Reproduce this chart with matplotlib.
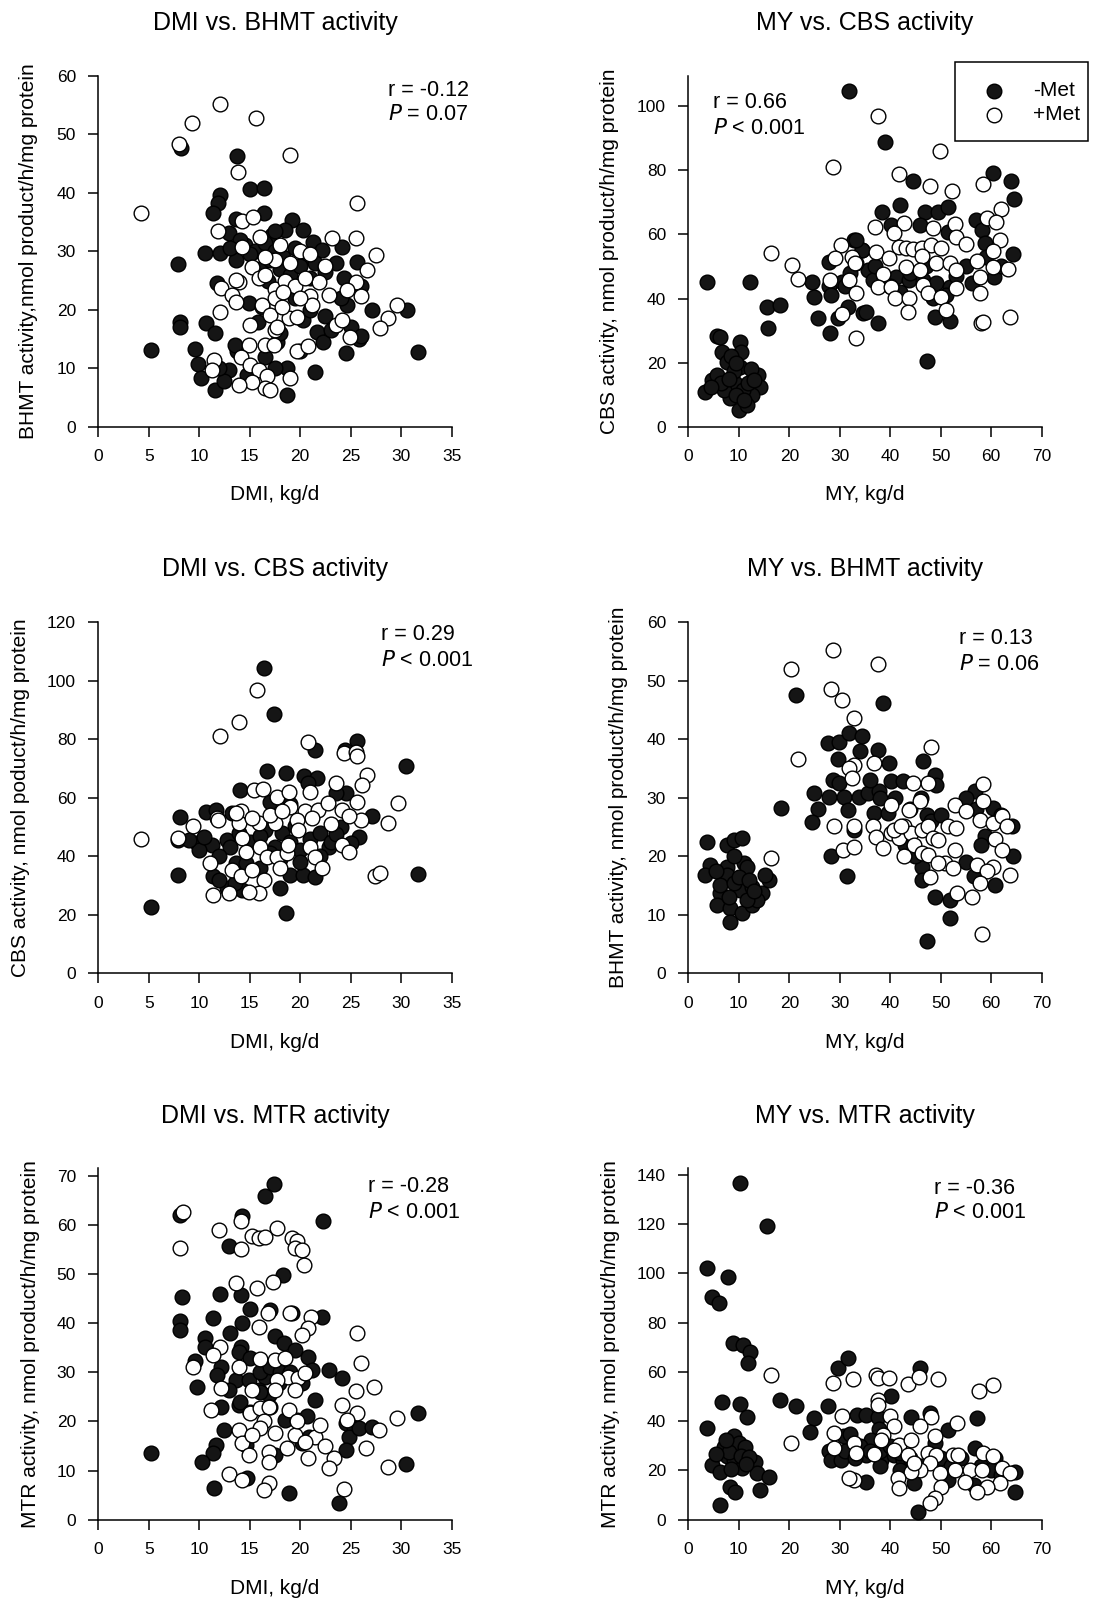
import numpy as np
import matplotlib
matplotlib.use("Agg")
import matplotlib.pyplot as plt
from matplotlib.patches import Rectangle
from matplotlib.lines import Line2D

plt.rcParams['font.family'] = ['Liberation Sans', 'DejaVu Sans']

# ---------------- data (x, y) ----------------
# Panel 1: DMI vs BHMT
dmi_bhmt_neg = [(8.2,47.6),(13.7,46.2),(15.0,40.6),(16.4,40.9),(12.1,39.6),(11.9,38.2),(11.4,36.5),(16.4,36.6),
    (13.6,35.6),(12.9,33.2),(17.2,32.8),(10.6,29.7),(12.1,29.8),(13.6,28.5),(7.9,27.8),(11.8,24.6),(14.9,21.1),
    (8.1,18.0),(8.1,17.1),(10.7,17.8),(5.2,13.2),(9.6,13.3),(11.6,16.0),(13.7,12.9),(9.9,10.8),(10.2,8.3),
    (11.6,6.3),(12.9,9.7),(12.4,7.9),(14.7,8.9),(19.2,35.4),(18.5,33.6),(20.3,33.6),(21.3,31.6),(22.2,30.2),
    (24.1,30.8),(25.6,28.2),(24.3,25.4),(24.6,20.8),(27.1,20.0),(30.6,20.0),(21.7,16.3),(22.3,14.6),(25.8,15.1),
    (24.5,12.6),(31.7,12.8),(21.5,9.4),(18.7,10.0),(18.7,5.5),(20.3,18.3),(17.7,14.6),
    (14.5,31.0),(15.5,30.0),(16.5,31.5),(17.5,30.0),(18.3,29.0),(19.5,30.5),(20.5,29.0),(21.5,28.0),(16.0,27.0),
    (17.0,28.5),(18.0,27.0),(19.0,26.0),(20.0,27.5),(21.0,25.5),(22.5,26.5),(23.5,28.0),(15.0,29.5),(14.0,32.0),
    (17.5,33.5),(13.0,30.5),(16.8,25.0),(19.5,22.0),(21.0,20.0),(22.5,19.0),(23.0,16.5),(25.0,17.0),(26.0,15.5),
    (16.5,12.0),(17.5,10.0),(15.8,18.0),(16.2,20.5),(18.0,16.0),(20.0,13.0),(24.0,22.0),(26.0,24.0),(13.5,14.0),(12.0,10.0)]
dmi_bhmt_pos = [(12.1,55.1),(9.3,51.9),(15.6,52.7),(8.0,48.3),(13.8,43.5),(4.2,36.6),(14.2,35.1),(15.3,35.8),
    (11.9,33.4),(16.0,32.5),(14.2,30.8),(15.2,27.4),(15.9,25.4),(13.9,24.8),(13.6,25.1),(12.2,23.8),(13.2,22.5),
    (12.1,19.7),(13.6,21.3),(16.2,20.8),(17.0,19.1),(15.0,17.4),(16.5,14.0),(14.9,14.0),(14.1,12.0),(15.0,10.6),
    (15.9,9.7),(16.7,8.7),(16.5,6.6),(15.2,7.7),(13.9,7.2),(11.5,11.4),(11.3,9.7),(17.5,28.5),(17.5,23.5),
    (17.5,22.0),(17.5,16.5),(19.0,46.5),(25.6,38.3),(25.5,32.2),(23.1,32.3),(27.5,29.4),(26.6,26.9),(25.5,24.8),
    (24.6,23.4),(26.0,22.3),(22.8,22.5),(21.9,24.8),(22.5,27.5),(21.0,22.4),(21.2,20.8),(29.6,20.8),(28.7,18.6),
    (27.9,16.9),(23.5,17.4),(24.1,18.3),(24.9,15.3),(19.7,12.9),(20.8,13.8),(19.0,8.3),(18.9,18.6),(19.7,18.8),
    (18.2,20.5),(17.7,17.1),(17.4,14.0),(17.0,6.3),(18.5,25.0),(19.5,24.0),(20.5,25.5),(19.0,28.0),(20.0,30.0),
    (18.0,31.0),(21.0,29.5),(16.5,26.0),(18.3,23.0),(20.0,22.0),(16.5,29.0)]

# Panel 2: MY vs CBS
my_cbs_neg = [(31.9,104.5),(3.7,45.0),(12.2,45.3),(15.6,37.5),(18.1,38.0),(15.7,30.9),
    (5.7,28.3),(6.3,28.0),(10.3,26.6),(6.7,23.5),(10.4,23.5),(7.6,20.3),(10.3,18.8),(13.9,16.2),(14.3,12.6),
    (12.6,10.0),(3.3,11.0),(4.7,14.6),(9.3,13.6),(8.3,8.9),(10.0,5.3),(11.6,6.9),(5.7,16.2),(7.0,11.5),(9.0,17.5),
    (10.8,11.5),(6.4,13.6),(11.8,13.6),(8.5,22.0),(9.5,20.0),(8.0,15.0),(12.5,18.0),(4.5,12.5),(9.5,10.0),(11.0,8.5),
    (13.0,14.5),(32.9,58.3),(34.4,55.0),(27.9,51.5),(24.6,45.3),(24.9,40.6),(27.8,44.0),(28.2,41.1),(25.7,33.9),
    (28.1,29.2),(29.6,33.9),(31.6,37.5),(34.7,35.4),(39.0,88.9),(44.6,76.6),(60.4,79.0),(63.9,76.6),(64.5,71.1),
    (42.0,69.2),(38.4,66.8),(46.8,67.1),(49.5,66.9),(51.5,68.6),(45.8,62.9),(51.5,60.8),(40.2,62.9),(57.0,64.5),
    (58.1,61.4),(58.8,57.4),(64.4,53.8),(60.6,46.8),(56.1,44.8),(34.5,55.1),(35.5,48.9),(36.5,45.8),(38.8,46.8),
    (41.2,46.8),(43.8,45.8),(46.5,45.8),(49.1,44.8),(51.8,43.7),(51.1,41.1),(48.5,40.1),(35.2,35.9),(37.5,32.3),
    (48.8,34.4),(51.8,33.1),(47.2,20.7),(33.2,58.3),(33.2,51.0),(30.5,45.0),(32.0,48.0),(37.0,50.0),(40.0,44.0),
    (44.0,48.0),(53.0,47.0),(55.0,50.0),(59.0,53.0),(62.0,50.0),(47.0,50.0),(42.0,42.0),(31.0,44.0)]
my_cbs_pos = [(28.7,81.1),(16.3,54.1),(20.5,50.5),(21.8,46.0),(30.2,56.7),(29.0,52.6),(32.5,52.9),(33.0,51.2),
    (28.1,45.8),(31.8,45.8),(33.2,41.7),(30.4,35.2),(33.2,27.6),(37.5,96.7),(49.8,86.0),(41.8,78.8),(47.9,75.2),
    (52.3,73.6),(58.4,75.7),(61.9,67.8),(36.9,62.4),(42.8,63.6),(40.8,60.3),(48.5,62.1),(52.8,63.1),(53.1,59.3),
    (59.1,65.0),(61.0,63.9),(61.8,58.3),(41.8,56.2),(43.2,55.7),(44.5,55.3),(46.2,55.7),(48.1,56.7),(50.1,55.7),
    (55.1,57.0),(37.2,54.6),(39.8,52.6),(46.2,53.1),(49.1,51.0),(51.8,51.0),(53.1,48.9),(57.1,51.8),(60.4,54.8),
    (60.4,49.9),(63.4,49.1),(57.8,46.8),(57.8,41.8),(43.2,49.9),(45.8,48.9),(38.5,47.6),(37.5,43.5),(40.2,43.7),
    (41.0,40.1),(43.8,40.1),(46.5,44.2),(47.5,41.7),(50.1,40.6),(53.1,43.4),(43.5,35.9),(51.0,36.4),(58.0,32.3),
    (58.4,32.8),(63.7,34.4)]

# Panel 3: DMI vs CBS
dmi_cbs_neg = [(16.4,104.4),(17.4,88.6),(21.5,76.4),(25.6,79.3),(24.4,76.2),(30.5,70.9),(16.7,69.0),(18.6,68.4),
    (20.4,67.3),(21.7,66.7),(14.0,62.5),(8.1,53.4),(10.7,55.0),(11.7,55.9),(7.9,45.6),(9.8,44.5),(11.3,43.9),
    (12.7,45.6),(13.9,47.9),(7.9,33.6),(5.2,22.8),(18.6,20.7),(18.0,29.1),(11.4,33.1),(12.7,29.1),(14.2,28.5),
    (19.0,33.6),(20.3,33.6),(21.5,32.9),(27.1,53.6),(25.8,46.7),(24.5,61.6),(22.8,43.3),(16.5,49.0),(18.2,47.9),
    (19.5,50.2),(17.5,43.3),(13.2,54.8),(13.6,37.6),(14.6,37.6),(20.8,65.0),(23.5,61.6),(31.7,34.0),
    (15.0,45.0),(16.0,47.0),(17.0,41.0),(19.0,45.0),(20.0,42.0),(21.0,46.0),(22.0,48.0),(23.0,45.0),(24.0,50.0),
    (18.0,39.0),(20.0,38.0),(22.0,40.0),(16.0,36.0),(13.0,43.0),(12.0,40.0),(10.0,42.0),(23.5,47.5),(25.0,44.5),
    (19.0,58.0),(17.0,58.5),(12.0,32.0),(13.5,31.0),(9.0,45.5),(10.5,46.5)]
dmi_cbs_pos = [(15.7,96.7),(12.1,81.0),(13.9,85.8),(20.8,78.9),(24.3,75.3),(25.5,75.8),(25.6,74.1),(26.6,67.9),
    (26.1,64.4),(23.5,65.0),(29.7,58.2),(28.7,51.5),(4.2,46.0),(9.4,50.4),(7.9,46.2),(11.8,53.0),(15.4,62.7),
    (16.3,63.0),(17.7,60.4),(18.9,61.8),(21.0,61.8),(19.0,56.8),(20.5,55.6),(21.8,55.9),(22.7,58.2),(24.1,55.9),
    (25.6,58.7),(26.0,52.5),(24.8,53.6),(23.0,51.1),(21.2,53.0),(19.7,52.5),(19.8,49.0),(17.5,51.3),(15.9,51.5),
    (14.1,55.6),(13.9,51.5),(15.2,53.0),(17.0,54.2),(18.2,55.6),(14.2,46.2),(14.6,41.6),(16.0,43.3),(16.7,39.9),
    (17.7,39.9),(18.7,41.1),(18.8,43.9),(21.0,43.3),(21.5,39.9),(22.2,35.9),(24.1,43.9),(24.8,41.6),(11.1,37.6),
    (13.2,35.4),(14.1,33.1),(15.2,35.4),(16.4,31.9),(15.9,27.4),(14.9,27.9),(12.9,27.4),(11.4,26.8),(18.0,35.9),
    (27.4,33.1),(27.9,34.2),(11.9,52.5),(13.6,54.8)]

# Panel 4: MY vs BHMT
my_bhmt_neg = [(21.3,47.6),(38.5,46.2),(27.6,39.4),(29.9,39.6),(31.9,41.1),(34.5,40.6),(29.6,36.6),(37.5,38.2),
    (39.8,35.9),(28.6,33.1),(29.9,32.5),(24.9,30.8),(27.9,30.2),(30.9,30.2),(33.9,30.2),(35.5,30.8),(18.3,28.2),
    (25.6,28.1),(24.6,25.8),(31.6,27.9),(32.9,24.5),(37.8,31.1),(40.2,32.8),(42.5,32.8),(36.8,27.4),(39.5,27.4),
    (46.5,36.2),(48.8,33.9),(49.1,32.2),(47.2,27.1),(28.2,20.0),(31.4,16.7),(44.8,21.4),(46.2,18.2),(46.2,16.0),
    (48.8,13.1),(51.8,12.5),(51.8,9.4),(47.2,5.6),(56.8,31.1),(60.4,28.2),(64.1,25.1),(58.8,23.4),(64.4,20.1),
    (60.8,15.1),(56.5,16.7),(3.8,22.4),(7.6,22.0),(9.0,22.8),(10.6,23.1),(4.3,18.5),(3.3,16.8),(7.6,18.2),
    (11.0,18.8),(7.6,16.8),(6.3,13.7),(10.3,14.3),(12.6,14.8),(14.6,13.7),(15.9,16.0),(15.2,16.8),(5.7,11.7),
    (8.3,11.1),(10.6,10.3),(12.6,11.7),(8.2,8.8),(13.6,12.5),(11.6,12.5),(9.0,20.0),(11.6,18.2),(6.3,15.1),(9.0,15.4),
    (34.0,38.0),(36.0,33.0),(38.0,30.0),(41.0,30.0),(44.0,28.0),(46.0,30.0),(48.0,26.0),(50.0,27.0),(43.0,22.0),
    (45.0,20.0),(55.0,30.0),(57.0,28.0),(62.0,27.0),(58.0,22.0),(55.0,19.0),(8.0,13.0),(10.0,16.5),(12.0,16.0),
    (5.5,17.5),(13.0,14.0)]
my_bhmt_pos = [(28.7,55.3),(20.4,52.0),(37.5,52.8),(28.2,48.5),(30.4,46.7),(32.9,43.6),(21.8,36.7),(32.9,35.6),
    (31.9,35.1),(32.5,33.4),(36.7,35.9),(48.1,38.6),(47.5,32.5),(44.5,32.5),(45.8,29.4),(40.2,28.8),(43.8,27.9),
    (58.4,32.4),(58.4,29.5),(52.8,28.8),(55.1,27.7),(57.8,26.2),(60.4,25.7),(62.1,26.9),(63.1,25.2),(60.8,22.9),
    (62.1,21.0),(57.1,18.5),(60.4,18.2),(63.7,16.8),(59.1,17.4),(57.8,15.4),(56.1,13.0),(53.3,13.8),(58.2,6.7),
    (16.3,19.7),(28.9,25.1),(30.6,21.0),(32.9,21.6),(32.9,25.1),(36.5,25.1),(37.2,23.3),(38.5,21.4),(40.2,24.0),
    (41.8,23.1),(42.8,25.1),(44.2,24.0),(46.2,24.5),(47.5,25.1),(48.5,23.1),(44.8,22.0),(46.2,20.5),(47.5,20.2),
    (49.5,22.8),(51.5,25.1),(53.1,24.8),(52.8,21.1),(50.8,18.8),(49.5,18.8),(52.5,18.0),(47.8,16.5),(42.8,20.1),
    (40.8,24.5),(42.2,25.1)]

# Panel 5: DMI vs MTR
dmi_mtr_neg = [(17.4,68.3),(16.5,65.8),(22.3,60.7),(8.1,62.0),(14.2,61.7),(12.9,55.6),(18.3,49.8),(8.3,45.4),
    (12.1,45.9),(14.1,45.7),(15.0,42.8),(17.0,42.7),(8.1,40.5),(8.1,38.6),(11.4,41.0),(14.2,40.0),(19.2,42.0),
    (22.2,41.3),(10.6,36.9),(10.6,35.2),(14.1,35.2),(13.9,34.2),(17.5,37.3),(18.4,35.9),(9.6,32.2),(12.2,31.1),
    (11.8,29.5),(13.6,28.4),(14.9,28.4),(16.5,29.1),(17.9,27.8),(19.5,34.5),(20.8,33.2),(21.2,30.5),(22.8,30.5),
    (24.1,28.8),(9.8,27.0),(12.9,26.4),(15.9,26.4),(16.9,25.4),(20.2,27.8),(12.2,23.0),(13.9,23.4),(21.5,24.4),
    (12.4,18.3),(11.7,15.2),(11.4,13.5),(10.3,11.8),(18.5,20.3),(19.7,20.3),(20.7,21.0),(20.9,16.9),(20.2,15.6),
    (24.5,19.6),(25.3,18.6),(24.8,16.9),(25.8,18.6),(27.1,18.9),(24.5,14.2),(31.7,21.7),(30.5,11.3),(5.2,13.5),
    (14.7,8.4),(11.5,6.4),(18.9,5.4),(23.8,3.3),(17.5,13.2),(14.6,15.2),
    (13.0,38.0),(15.0,33.0),(16.0,30.0),(17.0,31.0),(18.0,30.0),(19.0,30.0),(16.0,26.0),(14.0,24.0),(15.0,22.0),(17.0,23.0)]
dmi_mtr_pos = [(8.4,62.7),(8.1,55.3),(12.0,59.0),(14.1,60.7),(15.2,57.8),(15.9,57.3),(16.5,57.6),(17.7,59.3),
    (19.2,57.3),(19.7,56.8),(19.5,55.3),(20.2,54.9),(20.4,51.9),(14.1,55.0),(13.6,48.1),(15.7,47.1),(17.3,48.3),
    (16.8,42.0),(15.9,39.3),(19.0,42.1),(21.1,41.3),(20.8,39.0),(20.2,37.6),(12.1,35.2),(11.4,33.5),(9.4,31.1),
    (25.6,37.9),(26.0,31.8),(27.3,27.0),(16.0,32.7),(17.5,32.5),(18.5,32.9),(18.8,29.1),(19.8,28.8),(20.5,29.8),
    (13.9,31.1),(12.2,26.8),(17.7,28.4),(15.2,26.4),(17.5,26.4),(19.5,26.4),(11.2,22.3),(15.0,21.7),(16.0,22.7),
    (16.9,23.0),(16.4,20.0),(16.0,18.6),(13.9,18.3),(14.2,15.6),(15.2,17.2),(17.5,17.6),(19.5,17.2),(18.9,22.3),
    (19.7,20.0),(21.5,16.9),(22.0,19.3),(20.5,15.9),(18.7,14.5),(16.9,13.8),(14.9,13.2),(16.9,11.8),(20.8,12.5),
    (22.5,14.9),(23.3,12.5),(22.8,10.5),(24.1,23.4),(25.5,26.1),(25.6,21.7),(24.6,20.3),(26.5,14.5),(27.8,18.3),
    (29.6,20.6),(28.7,10.8),(24.3,6.2),(12.9,9.4),(14.2,8.1),(16.9,7.5),(16.4,6.0)]

# Panel 6: MY vs MTR
my_mtr_neg = [(10.3,136.6),(15.5,119.3),(3.8,102.1),(7.8,98.5),(4.7,90.4),(6.0,87.8),(8.8,71.8),(10.8,71.1),
    (12.3,68.0),(11.8,63.7),(6.7,47.8),(10.3,47.0),(11.6,41.9),(3.7,37.2),(7.0,29.7),(9.0,33.8),(10.0,31.1),
    (11.3,29.7),(7.6,25.7),(9.0,24.3),(4.7,22.3),(6.3,19.5),(10.6,20.9),(13.3,23.6),(13.6,18.9),(15.9,17.5),
    (8.3,13.4),(9.3,11.4),(14.3,12.1),(6.2,6.0),(18.1,48.5),(21.3,46.0),(24.9,41.3),(24.2,35.8),(27.6,46.0),
    (29.6,61.6),(31.6,65.7),(27.9,27.7),(28.2,24.3),(30.2,24.3),(30.9,33.8),(33.5,42.6),(35.2,42.6),(37.5,41.9),
    (37.8,36.8),(36.2,32.4),(35.2,26.3),(38.2,24.3),(40.8,26.3),(42.5,24.3),(44.8,14.8),(35.2,15.5),(40.2,50.1),
    (45.8,61.6),(44.2,41.9),(47.8,43.3),(48.8,31.1),(51.5,36.5),(57.1,41.3),(56.8,29.1),(60.8,25.0),(64.7,19.5),
    (64.7,11.4),(56.5,14.1),(51.5,16.2),(45.5,3.3),
    (32.0,35.0),(34.0,30.0),(36.0,28.0),(38.0,28.0),(40.0,30.0),(42.0,27.0),(44.0,25.0),(46.0,22.0),(48.0,24.0),
    (50.0,25.0),(52.0,22.0),(54.0,25.0),(58.0,22.0),(60.0,20.0),(62.0,18.0),(38.0,22.0),(42.0,20.0),(31.0,28.0),
    (33.0,25.0),(8.0,27.5),(10.5,26.0),(7.5,32.5),(12.0,25.5),(5.5,26.5),(8.5,20.5),(11.5,22.5)]
my_mtr_pos = [(16.3,58.9),(20.3,31.1),(28.6,55.5),(32.7,57.2),(37.1,58.9),(37.5,57.6),(39.7,57.6),(43.5,55.3),
    (45.7,57.8),(49.5,57.2),(57.6,52.1),(60.4,54.8),(37.5,48.7),(37.5,46.7),(30.4,42.2),(40.0,42.2),(40.8,37.9),
    (48.1,41.9),(53.3,39.2),(45.8,37.9),(48.8,33.8),(28.9,35.2),(28.9,29.1),(32.9,31.1),(33.2,27.0),(36.7,26.8),
    (38.5,34.5),(41.8,30.4),(44.2,32.5),(43.5,26.3),(47.5,27.0),(49.1,26.3),(47.8,23.0),(45.8,20.2),(44.2,19.5),
    (41.5,16.9),(41.8,12.8),(49.8,18.9),(52.8,20.2),(52.5,26.3),(53.5,26.3),(55.8,20.2),(58.1,20.2),(58.4,27.0),
    (60.4,25.7),(62.1,20.9),(63.7,19.1),(61.8,14.8),(59.1,13.2),(57.1,11.4),(54.8,15.5),(50.1,13.4),(48.8,8.7),
    (47.8,6.7),(32.9,16.2),(31.9,16.9),(44.8,23.0),(40.8,28.4),(38.2,32.4)]

titles = ["DMI vs. BHMT activity", "MY vs. CBS activity", "DMI vs. CBS activity",
          "MY vs. BHMT activity", "DMI vs. MTR activity", "MY vs. MTR activity"]
xlabels = ["DMI, kg/d", "MY, kg/d", "DMI, kg/d", "MY, kg/d", "DMI, kg/d", "MY, kg/d"]
ylabels = ["BHMT activity,nmol product/h/mg protein",
           "CBS activity, nmol product/h/mg protein",
           "CBS activity, nmol poduct/h/mg protein",
           "BHMT activity, nmol product/h/mg protein",
           "MTR activity, nmol product/h/mg protein",
           "MTR activity, nmol product/h/mg protein"]
r_texts = ["r = -0.12", "r = 0.66", "r = 0.29", "r = 0.13", "r = -0.28", "r = -0.36"]
p_ops = ["= 0.07", "< 0.001", "< 0.001", "= 0.06", "< 0.001", "< 0.001"]
legend_labels = ["-Met", "+Met"]

dmi_ticks = [0, 5, 10, 15, 20, 25, 30, 35]
my_ticks = [0, 10, 20, 30, 40, 50, 60, 70]

series = [(dmi_bhmt_neg, dmi_bhmt_pos), (my_cbs_neg, my_cbs_pos), (dmi_cbs_neg, dmi_cbs_pos),
          (my_bhmt_neg, my_bhmt_pos), (dmi_mtr_neg, dmi_mtr_pos), (my_mtr_neg, my_mtr_pos)]

# ---------------- layout (pixels) ----------------
W, H = 1094, 1605
fig = plt.figure(figsize=(W / 100, H / 100), dpi=100)

def fxp(px):
    return px / W

def fyp(py):
    return 1 - py / H

specs = [
    (98.3, 451.7, 75.7, 427.0, (0, 35), (0, 60), dmi_ticks, [0, 10, 20, 30, 40, 50, 60]),
    (688.3, 1041.7, 76.0, 427.0, (0, 70), (0, 109.3), my_ticks, [0, 20, 40, 60, 80, 100]),
    (98.3, 451.7, 622.2, 973.3, (0, 35), (0, 120), dmi_ticks, [0, 20, 40, 60, 80, 100, 120]),
    (688.3, 1041.7, 622.2, 973.3, (0, 70), (0, 60), my_ticks, [0, 10, 20, 30, 40, 50, 60]),
    (98.3, 451.7, 1168.3, 1519.7, (0, 35), (0, 71.5), dmi_ticks, [0, 10, 20, 30, 40, 50, 60, 70]),
    (688.3, 1041.7, 1168.3, 1519.7, (0, 70), (0, 142.7), my_ticks, [0, 20, 40, 60, 80, 100, 120, 140]),
]
title_y = [23, 23, 569, 569, 1115.5, 1115.5]
xlabel_y = [495, 495, 1042, 1042, 1588, 1588]
ylabel_x = [28.5, 610, 20.5, 619, 30.7, 611]
ann_pos = [(388, 90, 115), (713, 103, 128), (381, 634, 660), (959, 639, 664), (368, 1186, 1212), (934, 1188, 1213)]

MS = 112
for i, (spec, (neg, pos)) in enumerate(zip(specs, series)):
    l, r, t, b, xl, yl, xt, yt = spec
    ax = fig.add_axes([fxp(l), fyp(b), (r - l) / W, (b - t) / H])
    ax.set_xlim(*xl)
    ax.set_ylim(*yl)
    ax.set_xticks(xt)
    ax.set_yticks(yt)
    for s in ['top', 'right']:
        ax.spines[s].set_visible(False)
    for s in ['left', 'bottom']:
        ax.spines[s].set_linewidth(1.1)
    ax.tick_params(direction='out', length=7, width=1.1, pad=9, labelsize=12.5)
    neg = np.array(neg)
    pos = np.array(pos)
    ax.scatter(neg[:, 0], neg[:, 1], s=MS, facecolor='#151515', edgecolor='black',
               linewidths=1.0, clip_on=False, zorder=3)
    ax.scatter(pos[:, 0], pos[:, 1], s=MS, facecolor='white', edgecolor='black',
               linewidths=1.0, clip_on=False, zorder=4)
    cx = (l + r) / 2
    cy = (t + b) / 2
    fig.text(fxp(cx), fyp(title_y[i]), titles[i], ha='center', va='center', fontsize=18)
    fig.text(fxp(cx), fyp(xlabel_y[i]), xlabels[i], ha='center', va='center', fontsize=15)
    fig.text(fxp(ylabel_x[i]), fyp(cy), ylabels[i], ha='center', va='center', rotation=90, fontsize=15)
    ax_x, ry, py = ann_pos[i]
    fig.text(fxp(ax_x), fyp(ry), r_texts[i], ha='left', va='center', fontsize=15.5)
    fig.text(fxp(ax_x), fyp(py), r"$\mathit{P}$ " + p_ops[i], ha='left', va='center', fontsize=15.5)

# legend box (panel 2)
fig.add_artist(Rectangle((fxp(955), fyp(140.7)), (1088 - 955) / W, (140.7 - 61.7) / H,
                         transform=fig.transFigure, fill=False, edgecolor='black', linewidth=1.1))
leg_rows = [(91, '#151515'), (115, 'white')]
for (yy, fc), lab in zip(leg_rows, legend_labels):
    fig.add_artist(Line2D([fxp(994)], [fyp(yy)], marker='o', markersize=10.5, markerfacecolor=fc,
                          markeredgecolor='black', markeredgewidth=1.0, linestyle='none',
                          transform=fig.transFigure))
    fig.text(fxp(1033), fyp(yy), lab, ha='left', va='center', fontsize=15)

fig.savefig("out.png", dpi=100)
